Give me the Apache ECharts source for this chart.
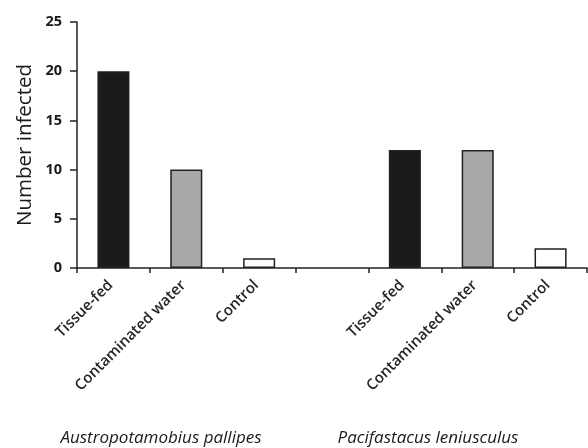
<!DOCTYPE html>
<html><head><meta charset="utf-8">
<script src="https://cdn.jsdelivr.net/npm/echarts@6/dist/echarts.min.js"></script>
<style>html,body{margin:0;padding:0;background:#fff}#c{width:588px;height:448px}</style>
</head><body><div id="c"></div>
<script>
const categories = ['Tissue-fed', 'Contaminated water', 'Control', '', 'Tissue-fed', 'Contaminated water', 'Control'];
const values = [20, 10, 1, null, 12, 12, 2];
const barColors = ['#1a1a1a', '#a8a8a8', '#ffffff', '#ffffff', '#1a1a1a', '#a8a8a8', '#ffffff'];
const groupLabels = ['Austropotamobius pallipes', 'Pacifastacus leniusculus'];
const yTicks = [0, 5, 10, 15, 20, 25];

const chart = echarts.init(document.getElementById('c'));
chart.setOption({
  animation: false,
  grid: { left: 77, right: 1, top: 22, bottom: 180, containLabel: false, outerBoundsMode: 'none' },
  xAxis: {
    type: 'category', data: categories,
    axisLine: { lineStyle: { color: '#222', width: 1.5 } },
    axisTick: { show: true, length: 5, lineStyle: { color: '#222', width: 1.5 } },
    axisLabel: { rotate: 45, interval: 0, fontFamily: 'Open Sans', fontWeight: 600, fontSize: 15, color: '#262626', margin: 12, padding: [0, 4, 0, 0] }
  },
  yAxis: {
    type: 'value', min: 0, max: 25, interval: 5,
    name: 'Number infected', nameLocation: 'middle', nameGap: 41, nameMoveOverlap: false,
    nameTextStyle: { fontFamily: 'Open Sans', fontSize: 20.5, color: '#1a1a1a' },
    axisLine: { show: true, lineStyle: { color: '#222', width: 1.5 } },
    axisTick: { show: true, length: 7, lineStyle: { color: '#222', width: 1.5 } },
    axisLabel: { fontFamily: 'Open Sans', fontWeight: 'bold', fontSize: 14.5, color: '#1a1a1a', margin: 15,
      formatter: v => yTicks.includes(v) ? String(v) : '' },
    splitLine: { show: false }
  },
  series: [{
    type: 'bar', barWidth: '44%',
    data: values.map((v, i) => ({ value: v === null ? '-' : v, itemStyle: { color: barColors[i] } })),
    itemStyle: { borderColor: '#222', borderWidth: 1.5 }
  }],
  graphic: [
    { type: 'text', x: 161, y: 438, style: { text: groupLabels[0], font: 'italic 17px "Open Sans"', fill: '#1a1a1a', textAlign: 'center', textVerticalAlign: 'middle' } },
    { type: 'text', x: 428, y: 438, style: { text: groupLabels[1], font: 'italic 17px "Open Sans"', fill: '#1a1a1a', textAlign: 'center', textVerticalAlign: 'middle' } }
  ]
});
</script></body></html>
